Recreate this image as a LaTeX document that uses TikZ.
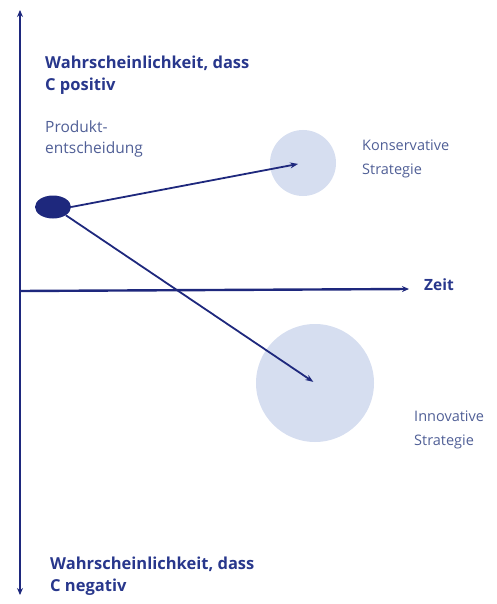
\documentclass[tikz,border=0pt]{standalone}
\usepackage{fontspec}
\setmainfont{Open Sans}
\usetikzlibrary{arrows.meta,shapes.geometric}
\definecolor{navy}{RGB}{30,40,125}
\definecolor{txtblue}{RGB}{40,55,140}
\definecolor{softtxt}{RGB}{80,95,150}
\definecolor{cloud}{RGB}{214,222,240}
\tikzset{
  axis/.style={draw=navy,line width=2.4pt,-{Stealth[length=7pt,width=6pt]}},
  conn/.style={draw=navy,line width=1.8pt,-{Stealth[length=8pt,width=6pt]}},
  head/.style={font=\fontsize{16.5}{22}\selectfont\bfseries,text=txtblue,align=left,anchor=west,inner sep=0pt},
  lab/.style={font=\fontsize{14.5}{24}\selectfont,text=softtxt,align=left,anchor=west,inner sep=0pt},
  blob/.style={circle,fill=cloud,draw=none,inner sep=0pt}
}
\begin{document}
\begin{tikzpicture}[x=1pt,y=-1pt]
\useasboundingbox (0,0) rectangle (496,604);
\coordinate (orig) at (20,291);
\coordinate (top) at (20,10);
\coordinate (bot) at (20,595);
\coordinate (xend) at (409,289);
\draw[axis] (orig) -- (top);
\draw[axis] (orig) -- (bot);
\draw[axis] (orig) -- (xend);
\node[head,font=\fontsize{15.5}{18}\selectfont\bfseries] (zeit) at (424,285) {Zeit};
\node[head] (pos) at (45,75) {Wahrscheinlichkeit, dass\\C positiv};
\node[head] (neg) at (50,576) {Wahrscheinlichkeit, dass\\C negativ};
\node[lab,font=\fontsize{15.5}{21}\selectfont] (prod) at (45,139) {Produkt-\\entscheidung};
\node[blob,minimum size=66pt] (kons) at (303,163) {};
\node[blob,minimum size=118pt] (inno) at (315,383) {};
\node[lab] (konsl) at (362,159) {Konservative\\Strategie};
\node[lab] (innol) at (414,430) {Innovative\\Strategie};
\node[ellipse,fill=navy,minimum width=36pt,minimum height=23pt,inner sep=0pt] (dec) at (53,207) {};
\draw[conn,shorten >=5pt] (dec.east) -- (kons.center);
\draw[conn,shorten >=2pt] (dec.south east) -- (inno.center);
\end{tikzpicture}
\end{document}
